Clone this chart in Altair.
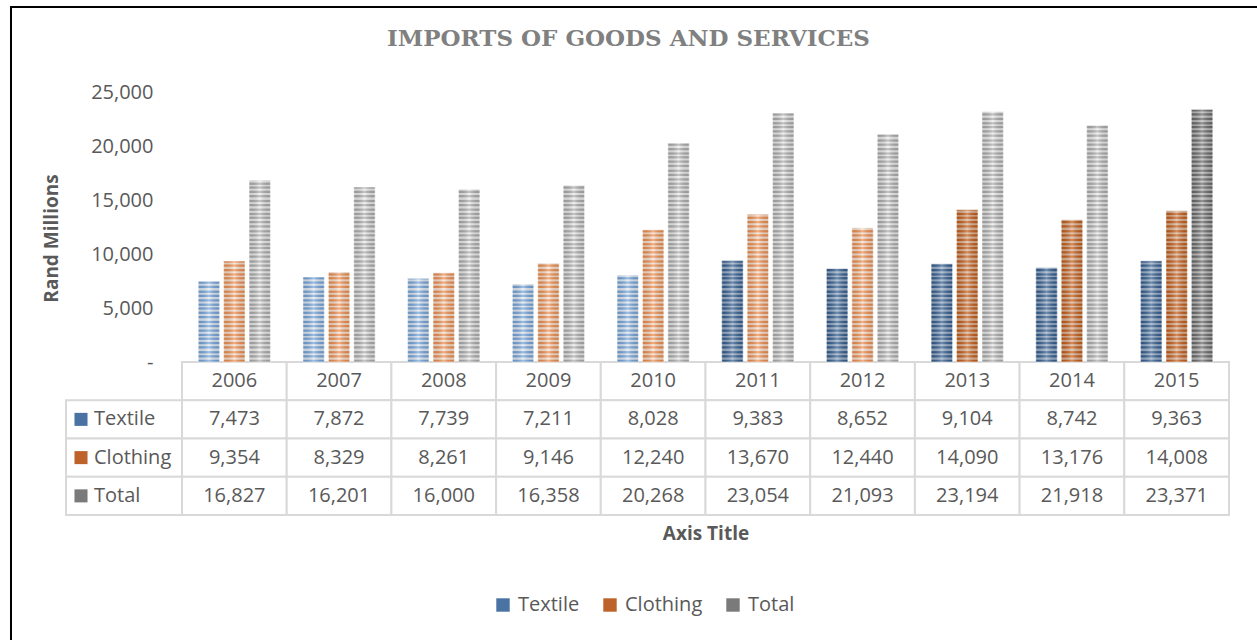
import altair as alt
import pandas as pd

# ---- data ----
years = ["2006", "2007", "2008", "2009", "2010", "2011", "2012", "2013", "2014", "2015"]
textile = [7473, 7872, 7739, 7211, 8028, 9383, 8652, 9104, 8742, 9363]
clothing = [9354, 8329, 8261, 9146, 12240, 13670, 12440, 14090, 13176, 14008]
total = [16827, 16201, 16000, 16358, 20268, 23054, 21093, 23194, 21918, 23371]
series_names = ["Textile", "Clothing", "Total"]
y_ticks = [0, 5000, 10000, 15000, 20000, 25000]
table_rows = ["hdr", "Textile", "Clothing", "Total"]

# ---- style (texture shade per bar, as in the picture) ----
dark_from = {"Textile": 2011, "Clothing": 2013, "Total": 2015}
fill_domain = [
    "Textile|light|base", "Textile|light|stripe", "Textile|dark|base", "Textile|dark|stripe",
    "Clothing|light|base", "Clothing|light|stripe", "Clothing|dark|base", "Clothing|dark|stripe",
    "Total|light|base", "Total|light|stripe", "Total|dark|base", "Total|dark|stripe",
]
fill_range = [
    "#dfe8f3", "#74a4da", "#98adc7", "#335d8e",
    "#f9e0ce", "#ee8e50", "#dcb295", "#c45c17",
    "#ececec", "#acacac", "#b9b9b9", "#686868",
]
legend_colors = ["#4a73a3", "#bd622a", "#7a7a7a"]
TXT = "#595959"
FONT = "Open Sans"

values_by_series = {"Textile": textile, "Clothing": clothing, "Total": total}
rows = []
for s in series_names:
    for y, v in zip(years, values_by_series[s]):
        shade = "dark" if int(y) >= dark_from[s] else "light"
        rows.append({"year": y, "series": s, "value": v,
                     "base_key": f"{s}|{shade}|base", "stripe_key": f"{s}|{shade}|stripe"})
bars_df = pd.DataFrame(rows)

cells = []
for y in years:
    cells.append({"year": y, "row": "hdr", "label": y})
for s in series_names:
    for y, v in zip(years, values_by_series[s]):
        cells.append({"year": y, "row": s, "label": f"{v:,}"})
table_df = pd.DataFrame(cells)
rowhdr_df = pd.DataFrame({"row": series_names})
one = pd.DataFrame({"k": [0]})

# ---- shared encodings ----
x_enc = alt.X("year:N", sort=years,
              scale=alt.Scale(domain=years, paddingInner=0, paddingOuter=0),
              axis=alt.Axis(title="Axis Title", labels=False, ticks=False, domain=False, grid=False,
                            titleFont=FONT, titleFontSize=19, titleFontWeight="bold",
                            titleColor=TXT, titlePadding=9))
xoff = alt.XOffset("series:N", sort=series_names,
                   scale=alt.Scale(domain=series_names, paddingInner=0.16, paddingOuter=0.64))
y_scale = alt.Scale(domain=[0, 25000], range=[270, 0], nice=False, zero=True)
tab_scale = alt.Scale(domain=table_rows, range=[270, 423], paddingInner=0, paddingOuter=0)
y_tab = alt.Y("row:N", scale=tab_scale, axis=None)
fill_scale = alt.Scale(domain=fill_domain, range=fill_range)

# ---- frame ----
frame_left = alt.Chart(one).mark_rule(color="black", strokeWidth=2).encode(
    x=alt.value(-171), y=alt.value(-85), y2=alt.value(560))
frame_top = alt.Chart(one).mark_rule(color="black", strokeWidth=2).encode(
    x=alt.value(-172), x2=alt.value(1100), y=alt.value(-85))

# ---- table ----
cell_rects = alt.Chart(table_df).mark_rect(fill="white", stroke="#d9d9d9", strokeWidth=2).encode(
    x=x_enc, y=y_tab)
cell_text = alt.Chart(table_df).mark_text(font=FONT, fontSize=20, color=TXT).encode(
    x=x_enc, y=y_tab, text="label:N")
hdr_rects = alt.Chart(rowhdr_df).mark_rect(fill="white", stroke="#d9d9d9", strokeWidth=2).encode(
    x=alt.value(-116), x2=alt.value(0), y=y_tab)
hdr_text = alt.Chart(rowhdr_df).mark_text(font=FONT, fontSize=20, color=TXT, align="left").encode(
    x=alt.value(-88), y=y_tab, text="row:N")
hdr_sq = alt.Chart(rowhdr_df).mark_square(size=170, opacity=1).encode(
    x=alt.value(-101), y=y_tab,
    color=alt.Color("row:N", sort=series_names,
                    scale=alt.Scale(domain=series_names, range=legend_colors),
                    legend=alt.Legend(orient="none", legendX=311, legendY=503, direction="horizontal",
                                      title=None, symbolType="square", symbolSize=180,
                                      symbolStrokeWidth=0, symbolOpacity=1,
                                      labelFont=FONT, labelFontSize=20, labelColor=TXT,
                                      labelOffset=5, columnPadding=20)))

# ---- bars ----
bar_base = alt.Chart(bars_df).mark_bar().encode(
    x=x_enc, xOffset=xoff,
    y=alt.Y("value:Q", scale=y_scale,
            axis=alt.Axis(values=y_ticks, title="Rand Millions",
                          labelExpr="datum.value == 0 ? '-\u2007' : format(datum.value, ',')",
                          labelFont=FONT, labelFontSize=20, labelColor=TXT, labelPadding=29,
                          ticks=False, tickSize=0, domain=False, grid=False,
                          titleFont=FONT, titleFontSize=19, titleFontWeight="bold", titleColor=TXT,
                          titleX=-131, titleY=146, titleAngle=-90, titleAlign="center",
                          titleBaseline="middle")),
    fill=alt.Fill("base_key:N", scale=fill_scale, legend=None))

stripes = alt.Chart(bars_df).transform_calculate(
    tiles="sequence(0, datum.value, 2800)"
).transform_flatten(["tiles"]).transform_calculate(
    offs="[0, 420, 800, 1250, 1650, 2050, 2400]"
).transform_flatten(["offs"]).transform_calculate(
    s0="datum.tiles + datum.offs",
    s1="min(datum.tiles + datum.offs + 210, datum.value)"
).transform_filter("datum.s1 > datum.s0").mark_bar().encode(
    x=x_enc, xOffset=xoff,
    y=alt.Y("s0:Q", scale=y_scale, axis=None), y2="s1:Q",
    fill=alt.Fill("stripe_key:N", scale=fill_scale, legend=None))

shine = alt.Chart(bars_df).mark_bar(
    fill=alt.Gradient(gradient="linear", x1=0, x2=1, y1=0, y2=0, stops=[
        alt.GradientStop(color="rgba(0,0,0,0.10)", offset=0),
        alt.GradientStop(color="rgba(255,255,255,0.30)", offset=0.5),
        alt.GradientStop(color="rgba(0,0,0,0.10)", offset=1)]),
    stroke="rgba(255,255,255,0.6)", strokeWidth=0.8
).encode(x=x_enc, xOffset=xoff, y=alt.Y("value:Q", scale=y_scale, axis=None))

chart = alt.layer(
    frame_left, frame_top, cell_rects, hdr_rects, cell_text, hdr_text, hdr_sq,
    bar_base, stripes, shine
).resolve_scale(y="independent").properties(
    width=1047, height=423,
    padding={"left": 182, "top": 92, "right": 28, "bottom": 125},
    autosize=alt.AutoSizeParams(type="none"),
    background="white",
    title=alt.TitleParams(text="IMPORTS OF GOODS AND SERVICES", font="DejaVu Serif",
                          fontSize=23, fontWeight="bold", color="#808080",
                          frame="group", anchor="middle", dx=-77, offset=-45),
).configure(font=FONT).configure_view(stroke=None)

chart.save("out.html", embed_options={"renderer": "svg", "actions": False})
